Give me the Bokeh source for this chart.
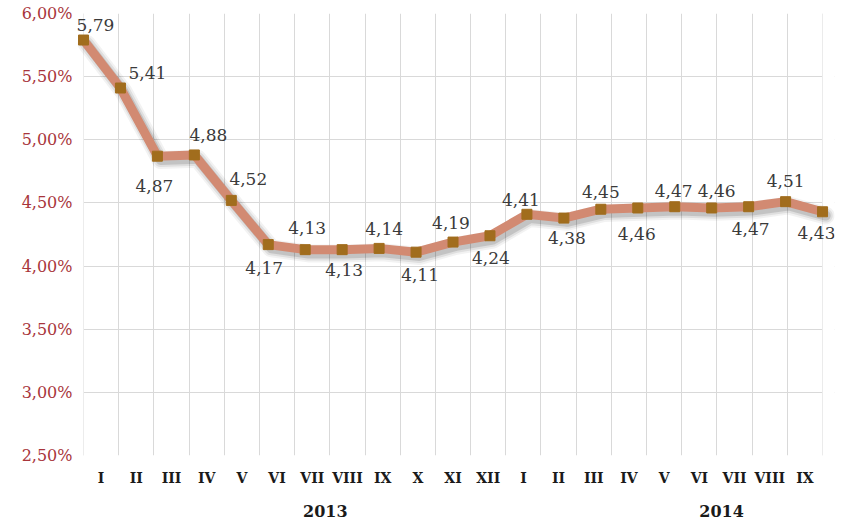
from bokeh.plotting import figure
from bokeh.models import (ColumnDataSource, Range1d, FixedTicker, LinearAxis,
                          CustomJSTickFormatter, LabelSet, BoxAnnotation)
from bokeh.transform import dodge
from bokeh.core.properties import value
from bokeh.embed import file_html
from bokeh.resources import INLINE

# ---- data ----
months = ["I", "II", "III", "IV", "V", "VI", "VII", "VIII", "IX", "X", "XI", "XII",
          "I", "II", "III", "IV", "V", "VI", "VII", "VIII", "IX"]
years = ["2013", "2014"]
rates = [5.79, 5.41, 4.87, 4.88, 4.52, 4.17, 4.13, 4.13, 4.14, 4.11, 4.19, 4.24,
         4.41, 4.38, 4.45, 4.46, 4.47, 4.46, 4.47, 4.51, 4.43]
y_ticks = [2.5, 3.0, 3.5, 4.0, 4.5, 5.0, 5.5, 6.0]

# ---- layout / style (pixel offsets of data labels, year label positions) ----
label_dx = [12, 27, -3, 14, 17, -4, 2, 2, 5, 4, -2, 1, -6, 3, 0, -1, -1, 5, 2, 0, -6]
label_dy = [-15, -15, 30, -20, -21, 23, -22, 20, -19, 23, -19, 22, -14, 20, -17, 26,
            -16, -17, 22, -21, 21]
year_label_pos = [6.87, 18.13]   # in band units
pad_left, pad_right = 0.3126, 0.34  # extra frame room (band units) so edge labels are not clipped

n = len(months)
xs = [i * n / (n - 1) for i in range(n)]
src = ColumnDataSource(dict(
    x=xs, y=rates,
    txt=[f"{v:.2f}".replace(".", ",") for v in rates],
    dx=label_dx, dy=[-d for d in label_dy],
))

p = figure(width=852, height=520, output_backend="svg", toolbar_location=None,
           x_range=Range1d(-pad_left, n + pad_right),
           y_range=Range1d(y_ticks[0], y_ticks[-1]),
           min_border_left=72, min_border_right=18, min_border_top=13,
           min_border_bottom=65)
p.outline_line_color = None
p.background_fill_color = "white"
p.border_fill_color = "white"

# grids
p.xgrid.ticker = FixedTicker(ticks=list(range(n + 1)))
p.ygrid.ticker = FixedTicker(ticks=y_ticks)
p.xgrid.grid_line_color = "#d9d9d9"
p.ygrid.grid_line_color = "#d9d9d9"

# mask grid outside the plot area
p.add_layout(BoxAnnotation(right=0, fill_color="white", fill_alpha=1,
                           line_color=None, level="underlay"))
p.add_layout(BoxAnnotation(left=n, fill_color="white", fill_alpha=1,
                           line_color=None, level="underlay"))

# y axis
p.yaxis.ticker = FixedTicker(ticks=y_ticks)
p.yaxis.formatter = CustomJSTickFormatter(code="return tick.toFixed(2).replace('.', ',') + '%';")
p.yaxis.axis_line_color = None
p.yaxis.major_tick_line_color = None
p.yaxis.minor_tick_line_color = None
p.yaxis.major_tick_out = 0
p.yaxis.major_tick_in = 0
p.yaxis.major_label_text_font = "DejaVu Serif"
p.yaxis.major_label_text_font_size = "16px"
p.yaxis.major_label_text_color = "#a8353b"
p.yaxis.major_label_standoff = 0

# x axis (months)
p.xaxis.ticker = FixedTicker(ticks=[k + 0.5 for k in range(n)])
p.xaxis.formatter = CustomJSTickFormatter(args=dict(labels=months),
                                          code="return labels[Math.floor(tick)];")
p.xaxis.axis_line_color = None
p.xaxis.major_tick_line_color = None
p.xaxis.minor_tick_line_color = None
p.xaxis.major_label_text_font = "DejaVu Serif"
p.xaxis.major_label_text_font_style = "bold"
p.xaxis.major_label_text_font_size = "14px"
p.xaxis.major_label_text_color = "#1a1a1a"
p.xaxis.major_label_standoff = 8

# year axis
yax = LinearAxis(ticker=FixedTicker(ticks=year_label_pos),
                 formatter=CustomJSTickFormatter(args=dict(years=years, pos=year_label_pos),
                                                 code="return years[pos.indexOf(tick)];"))
yax.axis_line_color = None
yax.major_tick_line_color = None
yax.minor_tick_line_color = None
yax.major_label_text_font = "DejaVu Serif"
yax.major_label_text_font_style = "bold"
yax.major_label_text_font_size = "16px"
yax.major_label_text_color = "#1a1a1a"
yax.major_label_standoff = 10
p.add_layout(yax, "below")

# shadow
for w, a in [(18, 0.05), (14, 0.08), (10, 0.12)]:
    p.line(x=dodge("x", 0.09, range=p.x_range), y=dodge("y", -0.03, range=p.y_range),
           source=src, line_width=w, line_color="black", line_alpha=a,
           line_join="round", line_cap="round")

# main line
p.line("x", "y", source=src, line_width=9, line_color="#d28a72", line_join="round")
p.scatter("x", "y", source=src, marker="square", size=10, fill_color="#a16d1d",
          line_color="#a16d1d")

# data labels
labels = LabelSet(x="x", y="y", text="txt", source=src, x_offset="dx", y_offset="dy",
                  text_align="center", text_baseline="middle",
                  text_font=value("DejaVu Serif"), text_font_size="17px",
                  text_color="#3a3a3a")
p.add_layout(labels)

open("out.html", "w").write(file_html(p, INLINE))
